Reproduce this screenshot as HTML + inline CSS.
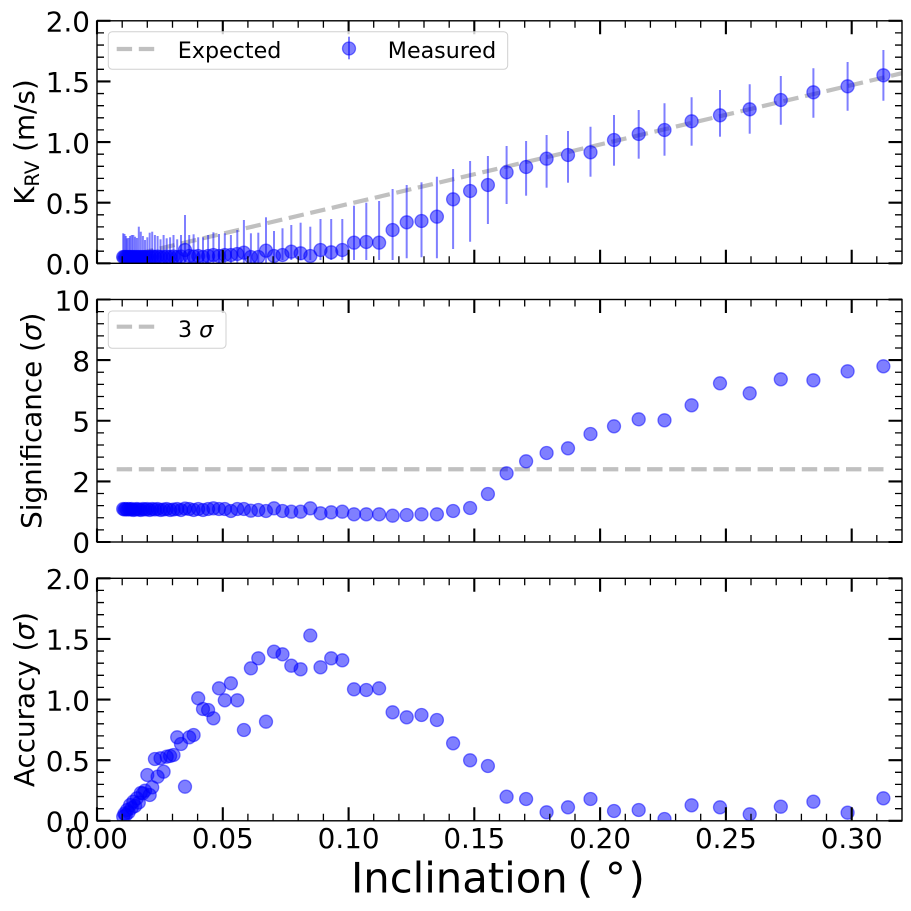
<!DOCTYPE html>
<html><head><meta charset="utf-8"><style>
html,body{margin:0;padding:0;background:#fff}
svg{display:block}
text{font-family:"DejaVu Sans","Liberation Sans",sans-serif;fill:#000}
.m{fill:#0000ff;fill-opacity:.5;stroke:#0000ff;stroke-opacity:.5;stroke-width:1.3}
.e{stroke:#0000ff;stroke-opacity:.5;stroke-width:2}
.tk{font-size:27.8px}
</style></head><body>
<svg width="911" height="911" viewBox="0 0 911 911" xmlns="http://www.w3.org/2000/svg">
<defs>
<clipPath id="c1"><rect x="97" y="20.8" width="805" height="242.5"/></clipPath>
<clipPath id="c2"><rect x="97" y="299.5" width="805" height="242.5"/></clipPath>
<clipPath id="c3"><rect x="97" y="578.3" width="805" height="242.5"/></clipPath>
<g id="frame" fill="none">
<path stroke="#000" stroke-width="2.1" d="M97 263.3v-13.5M222.8 263.3v-13.5M348.6 263.3v-13.5M474.3 263.3v-13.5M600.1 263.3v-13.5M725.9 263.3v-13.5M851.7 263.3v-13.5M97 20.8v13.5M222.8 20.8v13.5M348.6 20.8v13.5M474.3 20.8v13.5M600.1 20.8v13.5M725.9 20.8v13.5M851.7 20.8v13.5M97 263.3h13.5M97 202.7h13.5M97 142.05h13.5M97 81.4h13.5M97 20.8h13.5M902 263.3h-13.5M902 202.7h-13.5M902 142.05h-13.5M902 81.4h-13.5M902 20.8h-13.5"/>
<path stroke="#000" stroke-width="1.3" d="M122.2 263.3v-7M147.3 263.3v-7M172.5 263.3v-7M197.6 263.3v-7M247.9 263.3v-7M273.1 263.3v-7M298.2 263.3v-7M323.4 263.3v-7M373.7 263.3v-7M398.9 263.3v-7M424 263.3v-7M449.2 263.3v-7M499.5 263.3v-7M524.7 263.3v-7M549.8 263.3v-7M575 263.3v-7M625.3 263.3v-7M650.4 263.3v-7M675.6 263.3v-7M700.7 263.3v-7M751 263.3v-7M776.2 263.3v-7M801.4 263.3v-7M826.5 263.3v-7M876.8 263.3v-7M122.2 20.8v7M147.3 20.8v7M172.5 20.8v7M197.6 20.8v7M247.9 20.8v7M273.1 20.8v7M298.2 20.8v7M323.4 20.8v7M373.7 20.8v7M398.9 20.8v7M424 20.8v7M449.2 20.8v7M499.5 20.8v7M524.7 20.8v7M549.8 20.8v7M575 20.8v7M625.3 20.8v7M650.4 20.8v7M675.6 20.8v7M700.7 20.8v7M751 20.8v7M776.2 20.8v7M801.4 20.8v7M826.5 20.8v7M876.8 20.8v7M97 251.2h7M97 239.05h7M97 226.9h7M97 214.8h7M97 190.55h7M97 178.4h7M97 166.3h7M97 154.2h7M97 129.9h7M97 117.8h7M97 105.7h7M97 93.55h7M97 69.3h7M97 57.2h7M97 45.05h7M97 32.9h7M902 251.2h-7M902 239.05h-7M902 226.9h-7M902 214.8h-7M902 190.55h-7M902 178.4h-7M902 166.3h-7M902 154.2h-7M902 129.9h-7M902 117.8h-7M902 105.7h-7M902 93.55h-7M902 69.3h-7M902 57.2h-7M902 45.05h-7M902 32.9h-7"/>
<rect x="97" y="20.8" width="805" height="242.5" stroke="#000" stroke-width="1.4"/>
</g>
</defs>

<!-- ===== Panel 1 ===== -->
<g clip-path="url(#c1)">
<line x1="116.7" y1="258.7" x2="902" y2="73.2" stroke="#c0c0c0" stroke-width="4.2" stroke-dasharray="15.4 6.7"/>
<g class="e">
<line x1="883.4" y1="50" x2="883.4" y2="100.7"/><line x1="847.6" y1="62" x2="847.6" y2="110.7"/><line x1="813.4" y1="68.3" x2="813.4" y2="117.7"/><line x1="780.8" y1="76" x2="780.8" y2="124.7"/><line x1="749.7" y1="84.3" x2="749.7" y2="133.7"/><line x1="720" y1="90" x2="720" y2="136.7"/><line x1="691.6" y1="97.3" x2="691.6" y2="145.7"/><line x1="664.5" y1="103.3" x2="664.5" y2="155.7"/><line x1="638.7" y1="110" x2="638.7" y2="158.7"/><line x1="614" y1="115" x2="614" y2="165.7"/>
<line x1="590.5" y1="126.7" x2="590.5" y2="176.7"/><line x1="568" y1="131" x2="568" y2="182.7"/><line x1="546.6" y1="135" x2="546.6" y2="187.7"/><line x1="526.1" y1="141" x2="526.1" y2="195.7"/><line x1="506.6" y1="146" x2="506.6" y2="204"/><line x1="487.9" y1="156" x2="487.9" y2="224"/><line x1="470.1" y1="161" x2="470.1" y2="241.7"/><line x1="453.1" y1="169" x2="453.1" y2="249"/><line x1="436.9" y1="176.7" x2="436.9" y2="258.3"/><line x1="421.5" y1="182.3" x2="421.5" y2="257.3"/>
<line x1="406.7" y1="185" x2="406.7" y2="258.3"/><line x1="392.6" y1="189" x2="392.6" y2="260"/><line x1="379.1" y1="201" x2="379.1" y2="260"/><line x1="366.3" y1="202.7" x2="366.3" y2="260"/><line x1="354" y1="205.7" x2="354" y2="260"/><line x1="342.3" y1="219" x2="342.3" y2="260"/><line x1="331.2" y1="219" x2="331.2" y2="260"/><line x1="320.5" y1="219" x2="320.5" y2="260"/><line x1="310.3" y1="226.7" x2="310.3" y2="260"/><line x1="300.6" y1="222.7" x2="300.6" y2="260"/>
<line x1="291.3" y1="225" x2="291.3" y2="260"/><line x1="282.5" y1="228.3" x2="282.5" y2="260"/><line x1="274" y1="231" x2="274" y2="264"/><line x1="266" y1="217.3" x2="266" y2="264"/><line x1="258.3" y1="232.7" x2="258.3" y2="264"/><line x1="250.9" y1="233.3" x2="250.9" y2="264"/><line x1="243.9" y1="220" x2="243.9" y2="264"/><line x1="237.3" y1="230" x2="237.3" y2="264"/><line x1="230.9" y1="235" x2="230.9" y2="264"/><line x1="224.8" y1="233.3" x2="224.8" y2="264"/>
<line x1="219" y1="234" x2="219" y2="264"/><line x1="213.4" y1="232.3" x2="213.4" y2="264"/><line x1="208.1" y1="235" x2="208.1" y2="264"/><line x1="203" y1="237.3" x2="203" y2="264"/><line x1="198.2" y1="237.3" x2="198.2" y2="264"/><line x1="193.6" y1="234.3" x2="193.6" y2="264"/><line x1="189.2" y1="235" x2="189.2" y2="264"/><line x1="185" y1="215" x2="185" y2="264"/><line x1="181" y1="235" x2="181" y2="264"/><line x1="177.2" y1="239.3" x2="177.2" y2="264"/>
<line x1="173.5" y1="235" x2="173.5" y2="264"/><line x1="170.1" y1="237.3" x2="170.1" y2="264"/><line x1="166.7" y1="238.3" x2="166.7" y2="264"/><line x1="163.6" y1="235" x2="163.6" y2="264"/><line x1="160.5" y1="239.3" x2="160.5" y2="264"/><line x1="157.6" y1="236" x2="157.6" y2="264"/><line x1="154.9" y1="235" x2="154.9" y2="264"/><line x1="152.2" y1="231.7" x2="152.2" y2="264"/><line x1="149.7" y1="232.7" x2="149.7" y2="264"/><line x1="147.3" y1="237.3" x2="147.3" y2="264"/>
<line x1="145" y1="240" x2="145" y2="264"/><line x1="142.9" y1="236" x2="142.9" y2="264"/><line x1="140.8" y1="231.7" x2="140.8" y2="264"/><line x1="138.8" y1="226.7" x2="138.8" y2="264"/><line x1="136.9" y1="238" x2="136.9" y2="264"/><line x1="135.1" y1="236.7" x2="135.1" y2="264"/><line x1="133.3" y1="235" x2="133.3" y2="264"/><line x1="131.7" y1="235" x2="131.7" y2="264"/><line x1="130.1" y1="236" x2="130.1" y2="264"/><line x1="128.6" y1="238" x2="128.6" y2="264"/>
<line x1="127.1" y1="238.3" x2="127.1" y2="264"/><line x1="125.8" y1="236" x2="125.8" y2="264"/><line x1="124.5" y1="234" x2="124.5" y2="264"/><line x1="123.2" y1="233.3" x2="123.2" y2="264"/>
</g>
<g class="m">
<circle cx="883.4" cy="75.3" r="6.5"/><circle cx="847.6" cy="86.3" r="6.5"/><circle cx="813.4" cy="92.3" r="6.5"/><circle cx="780.8" cy="100" r="6.5"/><circle cx="749.7" cy="109.3" r="6.5"/><circle cx="720" cy="115.3" r="6.5"/><circle cx="691.6" cy="121.3" r="6.5"/><circle cx="664.5" cy="130" r="6.5"/><circle cx="638.7" cy="134" r="6.5"/><circle cx="614" cy="140" r="6.5"/>
<circle cx="590.5" cy="152.3" r="6.5"/><circle cx="568" cy="155" r="6.5"/><circle cx="546.6" cy="158.7" r="6.5"/><circle cx="526.1" cy="167" r="6.5"/><circle cx="506.6" cy="172.3" r="6.5"/><circle cx="487.9" cy="185" r="6.5"/><circle cx="470.1" cy="191" r="6.5"/><circle cx="453.1" cy="199.3" r="6.5"/><circle cx="436.9" cy="216.7" r="6.5"/><circle cx="421.5" cy="221" r="6.5"/>
<circle cx="406.7" cy="222.3" r="6.5"/><circle cx="392.6" cy="230" r="6.5"/><circle cx="379.1" cy="242.7" r="6.5"/><circle cx="366.3" cy="242" r="6.5"/><circle cx="354" cy="242.7" r="6.5"/><circle cx="342.3" cy="250" r="6.5"/><circle cx="331.2" cy="252.3" r="6.5"/><circle cx="320.5" cy="250" r="6.5"/><circle cx="310.3" cy="256" r="6.5"/><circle cx="300.6" cy="253.3" r="6.5"/>
<circle cx="291.3" cy="251.7" r="6.5"/><circle cx="282.5" cy="255" r="6.5"/><circle cx="274" cy="256" r="6.5"/><circle cx="266" cy="250.7" r="6.5"/><circle cx="258.3" cy="257" r="6.5"/><circle cx="250.9" cy="257" r="6.5"/><circle cx="243.9" cy="252.7" r="6.5"/><circle cx="237.3" cy="254" r="6.5"/><circle cx="230.9" cy="255" r="6.5"/><circle cx="224.8" cy="255" r="6.5"/>
<circle cx="219" cy="256" r="6.5"/><circle cx="213.4" cy="255" r="6.5"/><circle cx="208.1" cy="256" r="6.5"/><circle cx="203" cy="257" r="6.5"/><circle cx="198.2" cy="256" r="6.5"/><circle cx="193.6" cy="256.5" r="6.5"/><circle cx="189.2" cy="256" r="6.5"/><circle cx="185" cy="250" r="6.5"/><circle cx="181" cy="256.5" r="6.5"/><circle cx="177.2" cy="257" r="6.5"/>
<circle cx="173.5" cy="256.5" r="6.5"/><circle cx="170.1" cy="257" r="6.5"/><circle cx="166.7" cy="256.5" r="6.5"/><circle cx="163.6" cy="257" r="6.5"/><circle cx="160.5" cy="257" r="6.5"/><circle cx="157.6" cy="256.5" r="6.5"/><circle cx="154.9" cy="257" r="6.5"/><circle cx="152.2" cy="256.5" r="6.5"/><circle cx="149.7" cy="257" r="6.5"/><circle cx="147.3" cy="257" r="6.5"/>
<circle cx="145" cy="257" r="6.5"/><circle cx="142.9" cy="257" r="6.5"/><circle cx="140.8" cy="257" r="6.5"/><circle cx="138.8" cy="257" r="6.5"/><circle cx="136.9" cy="257" r="6.5"/><circle cx="135.1" cy="257" r="6.5"/><circle cx="133.3" cy="257" r="6.5"/><circle cx="131.7" cy="257" r="6.5"/><circle cx="130.1" cy="257" r="6.5"/><circle cx="128.6" cy="257" r="6.5"/>
<circle cx="127.1" cy="257" r="6.5"/><circle cx="125.8" cy="257" r="6.5"/><circle cx="124.5" cy="257" r="6.5"/><circle cx="123.2" cy="257" r="6.5"/>
</g>
</g>
<use href="#frame"/>
<!-- legend 1 -->
<rect x="108.3" y="31.7" width="399.4" height="37.6" rx="4" fill="#fff" fill-opacity=".8" stroke="#d0d0d0" stroke-width="1"/>
<line x1="116.7" y1="49" x2="155" y2="49" stroke="#c0c0c0" stroke-width="4.2" stroke-dasharray="15.4 6.7"/>
<text x="177.8" y="58" font-size="22.2">Expected</text>
<line class="e" x1="349" y1="36.7" x2="349" y2="59.3"/>
<circle class="m" cx="349" cy="48.5" r="6.5"/>
<text x="387.8" y="58" font-size="22.2">Measured</text>
<g class="tk" text-anchor="end">
<text x="90" y="274">0.0</text><text x="90" y="213.4">0.5</text><text x="90" y="152.8">1.0</text><text x="90" y="92.1">1.5</text><text x="90" y="31.5">2.0</text>
</g>
<text transform="translate(34,142.05) rotate(-90)" text-anchor="middle" font-size="27.8">K<tspan font-size="19.5" dy="5">RV</tspan><tspan dy="-5"> (m/s)</tspan></text>

<!-- ===== Panel 2 ===== -->
<g clip-path="url(#c2)">
<line x1="116.7" y1="469.25" x2="890" y2="469.25" stroke="#c0c0c0" stroke-width="4.2" stroke-dasharray="15.4 6.7"/>
<g class="m">
<circle cx="883.4" cy="366.3" r="6.5"/><circle cx="847.6" cy="371.3" r="6.5"/><circle cx="813.4" cy="380.3" r="6.5"/><circle cx="780.8" cy="379.3" r="6.5"/><circle cx="749.7" cy="393.3" r="6.5"/><circle cx="720" cy="383.3" r="6.5"/><circle cx="691.6" cy="405.3" r="6.5"/><circle cx="664.5" cy="420.3" r="6.5"/><circle cx="638.7" cy="419.3" r="6.5"/><circle cx="614" cy="426.3" r="6.5"/>
<circle cx="590.5" cy="434" r="6.5"/><circle cx="568" cy="448.3" r="6.5"/><circle cx="546.6" cy="453" r="6.5"/><circle cx="526.1" cy="461.3" r="6.5"/><circle cx="506.6" cy="473.3" r="6.5"/><circle cx="487.9" cy="494" r="6.5"/><circle cx="470.1" cy="508" r="6.5"/><circle cx="453.1" cy="511" r="6.5"/><circle cx="436.9" cy="514.3" r="6.5"/><circle cx="421.5" cy="514.3" r="6.5"/>
<circle cx="406.7" cy="515" r="6.5"/><circle cx="392.6" cy="515.7" r="6.5"/><circle cx="379.1" cy="514.3" r="6.5"/><circle cx="366.3" cy="514.3" r="6.5"/><circle cx="354" cy="514.3" r="6.5"/><circle cx="342.3" cy="511.7" r="6.5"/><circle cx="331.2" cy="512.3" r="6.5"/><circle cx="320.5" cy="513.3" r="6.5"/><circle cx="310.3" cy="508.3" r="6.5"/><circle cx="300.6" cy="511.7" r="6.5"/>
<circle cx="291.3" cy="511.7" r="6.5"/><circle cx="282.5" cy="511" r="6.5"/><circle cx="274" cy="508.3" r="6.5"/><circle cx="266" cy="511" r="6.5"/><circle cx="258.3" cy="510" r="6.5"/><circle cx="250.9" cy="510.7" r="6.5"/><circle cx="243.9" cy="509" r="6.5"/><circle cx="237.3" cy="509" r="6.5"/><circle cx="230.9" cy="511" r="6.5"/><circle cx="224.8" cy="509" r="6.5"/>
<circle cx="219" cy="509" r="6.5"/><circle cx="213.4" cy="508.3" r="6.5"/><circle cx="208.1" cy="509" r="6.5"/><circle cx="203" cy="510" r="6.5"/><circle cx="198.2" cy="509" r="6.5"/><circle cx="193.6" cy="510" r="6.5"/><circle cx="189.2" cy="509" r="6.5"/><circle cx="185" cy="508.5" r="6.5"/><circle cx="181" cy="510" r="6.5"/><circle cx="177.2" cy="509" r="6.5"/>
<circle cx="173.5" cy="509.5" r="6.5"/><circle cx="170.1" cy="510" r="6.5"/><circle cx="166.7" cy="509" r="6.5"/><circle cx="163.6" cy="509.5" r="6.5"/><circle cx="160.5" cy="510" r="6.5"/><circle cx="157.6" cy="509" r="6.5"/><circle cx="154.9" cy="509.5" r="6.5"/><circle cx="152.2" cy="509" r="6.5"/><circle cx="149.7" cy="510" r="6.5"/><circle cx="147.3" cy="509" r="6.5"/>
<circle cx="145" cy="509.5" r="6.5"/><circle cx="142.9" cy="509" r="6.5"/><circle cx="140.8" cy="510" r="6.5"/><circle cx="138.8" cy="509.5" r="6.5"/><circle cx="136.9" cy="509" r="6.5"/><circle cx="135.1" cy="509.5" r="6.5"/><circle cx="133.3" cy="510" r="6.5"/><circle cx="131.7" cy="509" r="6.5"/><circle cx="130.1" cy="509.5" r="6.5"/><circle cx="128.6" cy="509" r="6.5"/>
<circle cx="127.1" cy="509.5" r="6.5"/><circle cx="125.8" cy="509" r="6.5"/><circle cx="124.5" cy="509.5" r="6.5"/><circle cx="123.2" cy="509" r="6.5"/>
</g>
</g>
<use href="#frame" y="278.7"/>
<rect x="108.3" y="311" width="117.7" height="37.3" rx="4" fill="#fff" fill-opacity=".8" stroke="#d0d0d0" stroke-width="1"/>
<line x1="116.7" y1="326.7" x2="155" y2="326.7" stroke="#c0c0c0" stroke-width="4.2" stroke-dasharray="15.4 6.7"/>
<text x="178" y="337" font-size="22.2">3 <tspan font-style="italic">σ</tspan></text>
<g class="tk" text-anchor="end">
<text x="90" y="552.6">0</text><text x="90" y="492.2">2</text><text x="90" y="431.6">5</text><text x="90" y="370.9">8</text><text x="90" y="310.3">10</text>
</g>
<text transform="translate(41,420.75) rotate(-90)" text-anchor="middle" font-size="27.8">Significance (<tspan font-style="italic">σ</tspan>)</text>

<!-- ===== Panel 3 ===== -->
<g clip-path="url(#c3)">
<g class="m">
<circle cx="883.4" cy="798.3" r="6.5"/><circle cx="847.6" cy="812.7" r="6.5"/><circle cx="813.4" cy="801.7" r="6.5"/><circle cx="780.8" cy="806.7" r="6.5"/><circle cx="749.7" cy="814.3" r="6.5"/><circle cx="720" cy="807.3" r="6.5"/><circle cx="691.6" cy="805.3" r="6.5"/><circle cx="664.5" cy="819" r="6.5"/><circle cx="638.7" cy="810" r="6.5"/><circle cx="614" cy="811" r="6.5"/>
<circle cx="590.5" cy="799" r="6.5"/><circle cx="568" cy="807.3" r="6.5"/><circle cx="546.6" cy="812.3" r="6.5"/><circle cx="526.1" cy="799" r="6.5"/><circle cx="506.6" cy="796.7" r="6.5"/><circle cx="487.9" cy="766" r="6.5"/><circle cx="470.1" cy="760.3" r="6.5"/><circle cx="453.1" cy="743.3" r="6.5"/><circle cx="436.9" cy="720" r="6.5"/><circle cx="421.5" cy="715" r="6.5"/>
<circle cx="406.7" cy="717.3" r="6.5"/><circle cx="392.6" cy="712.3" r="6.5"/><circle cx="379.1" cy="688.3" r="6.5"/><circle cx="366.3" cy="690" r="6.5"/><circle cx="354" cy="689.3" r="6.5"/><circle cx="342.3" cy="660.3" r="6.5"/><circle cx="331.2" cy="658.3" r="6.5"/><circle cx="320.5" cy="667.3" r="6.5"/><circle cx="310.3" cy="635.5" r="6.5"/><circle cx="300.6" cy="669.3" r="6.5"/>
<circle cx="291.3" cy="665.7" r="6.5"/><circle cx="282.5" cy="654.3" r="6.5"/><circle cx="274" cy="651.7" r="6.5"/><circle cx="266" cy="721.7" r="6.5"/><circle cx="258.3" cy="658.3" r="6.5"/><circle cx="250.9" cy="668.3" r="6.5"/><circle cx="243.9" cy="730" r="6.5"/><circle cx="237.3" cy="700.3" r="6.5"/><circle cx="230.9" cy="683.3" r="6.5"/><circle cx="224.8" cy="700.3" r="6.5"/>
<circle cx="219" cy="688.3" r="6.5"/><circle cx="213.4" cy="718.3" r="6.5"/><circle cx="208.1" cy="710" r="6.5"/><circle cx="203" cy="709" r="6.5"/><circle cx="198.2" cy="698.3" r="6.5"/><circle cx="193.6" cy="735" r="6.5"/><circle cx="189.2" cy="737.3" r="6.5"/><circle cx="185" cy="786.7" r="6.5"/><circle cx="181" cy="744" r="6.5"/><circle cx="177.2" cy="737.3" r="6.5"/>
<circle cx="173.5" cy="755" r="6.5"/><circle cx="170.1" cy="756" r="6.5"/><circle cx="166.7" cy="756.7" r="6.5"/><circle cx="163.6" cy="771.7" r="6.5"/><circle cx="160.5" cy="758.3" r="6.5"/><circle cx="157.6" cy="776.7" r="6.5"/><circle cx="154.9" cy="759" r="6.5"/><circle cx="152.2" cy="787.3" r="6.5"/><circle cx="149.7" cy="795" r="6.5"/><circle cx="147.3" cy="775" r="6.5"/>
<circle cx="145" cy="790.7" r="6.5"/><circle cx="142.9" cy="793.3" r="6.5"/><circle cx="140.8" cy="793" r="6.5"/><circle cx="138.8" cy="802.5" r="6.5"/><circle cx="136.9" cy="798.3" r="6.5"/><circle cx="135.1" cy="806" r="6.5"/><circle cx="133.3" cy="801.7" r="6.5"/><circle cx="131.7" cy="808" r="6.5"/><circle cx="130.1" cy="805" r="6.5"/><circle cx="128.6" cy="812.3" r="6.5"/>
<circle cx="127.1" cy="810" r="6.5"/><circle cx="125.8" cy="815" r="6.5"/><circle cx="124.5" cy="813.7" r="6.5"/><circle cx="123.2" cy="816.7" r="6.5"/>
</g>
</g>
<use href="#frame" y="557.5"/>
<g class="tk" text-anchor="end">
<text x="90" y="831.5">0.0</text><text x="90" y="770.9">0.5</text><text x="90" y="710.3">1.0</text><text x="90" y="649.6">1.5</text><text x="90" y="589">2.0</text>
</g>
<text transform="translate(34,699.55) rotate(-90)" text-anchor="middle" font-size="27.8">Accuracy (<tspan font-style="italic">σ</tspan>)</text>
<g class="tk" text-anchor="middle">
<text x="97" y="848">0.00</text><text x="222.8" y="848">0.05</text><text x="348.6" y="848">0.10</text><text x="474.3" y="848">0.15</text><text x="600.1" y="848">0.20</text><text x="725.9" y="848">0.25</text><text x="851.7" y="848">0.30</text>
</g>
<text y="892.7" font-size="41.7"><tspan x="351">Inclination</tspan><tspan x="577">(</tspan><tspan x="605">°</tspan><tspan x="628.6">)</tspan></text>
</svg>
</body></html>
